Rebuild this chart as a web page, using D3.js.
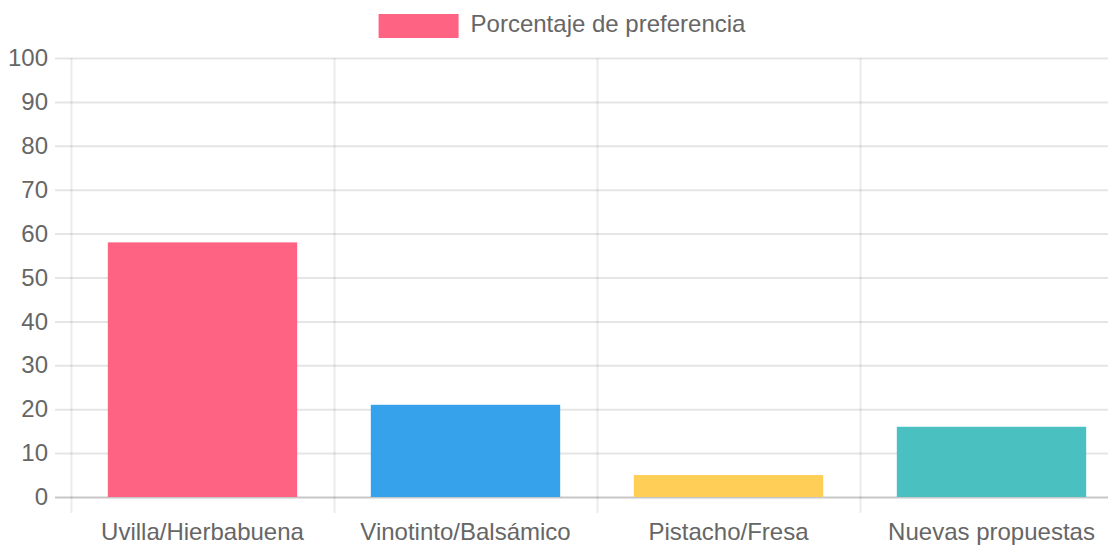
<!DOCTYPE html>
<html>
<head>
<meta charset="utf-8">
<script src="https://cdn.jsdelivr.net/npm/d3@7"></script>
<style>
  html, body { margin: 0; padding: 0; background: #fff; overflow: hidden; }
  text { font-family: "Liberation Sans", Arial, Helvetica, sans-serif; fill: #666; }
</style>
</head>
<body>
<div id="chart"></div>
<script>
// data
const categories = ["Uvilla/Hierbabuena", "Vinotinto/Balsámico", "Pistacho/Fresa", "Nuevas propuestas"];
const values = [58, 21, 5, 16];
const colors = ["#FF6384", "#36A2EB", "#FFCE56", "#4BC0C0"];
const yTicks = [0, 10, 20, 30, 40, 50, 60, 70, 80, 90, 100];
const seriesName = "Porcentaje de preferencia";

const width = 1108;
const height = 545;
const canvas_width = 1124; // original canvas is a bit wider than the shot
const font_size = 24;
const plot_left = 71;
const plot_top = 58;
const plot_bottom = 497;
const tick_len = 16;
const grid_color = "rgba(0,0,0,0.1)";

let svg = d3.select("#chart").append("svg")
	.attr("width", width)
	.attr("height", height);

let x = d3.scaleBand()
	.domain(categories)
	.range([plot_left, plot_left + 4 * 263])
	.paddingInner(0)
	.paddingOuter(0);

let y = d3.scaleLinear()
	.domain([0, 100])
	.range([plot_bottom, plot_top]);

//------------------------------------------------
// y axis + horizontal grid
let yAxis = d3.axisLeft(y)
	.tickValues(yTicks)
	.tickSize(-(canvas_width - plot_left + tick_len))
	.tickPadding(7);

let yg = svg.append("g")
	.attr("transform", "translate(" + (plot_left - tick_len) + ",0)")
	.call(yAxis);
yg.select(".domain").remove();
yg.selectAll("line")
	.attr("stroke", function(d) { return d === 0 ? "rgba(0,0,0,0.22)" : grid_color; })
	.attr("stroke-width", 2);
yg.selectAll("text")
	.style("font-size", font_size + "px")
	.attr("fill", "#666");

//------------------------------------------------
// vertical grid (category boundaries)
let bounds = categories.map(function(c) { return x(c); }).concat([x.range()[1]]);
svg.append("g").selectAll("line")
	.data(bounds)
	.enter().append("line")
	.attr("x1", function(d) { return d + 0.5; })
	.attr("x2", function(d) { return d + 0.5; })
	.attr("y1", plot_top)
	.attr("y2", plot_bottom + tick_len)
	.attr("stroke", "rgba(0,0,0,0.08)")
	.attr("stroke-width", 2);

// x labels
let xAxis = d3.axisBottom(x).tickSize(0).tickPadding(10);
let xg = svg.append("g")
	.attr("transform", "translate(0," + (plot_bottom + tick_len) + ")")
	.call(xAxis);
xg.select(".domain").remove();
xg.selectAll("text")
	.style("font-size", font_size + "px")
	.attr("fill", "#666");

//------------------------------------------------
// bars
let bw = x.bandwidth() * 0.72;
svg.append("g").selectAll("rect")
	.data(values)
	.enter().append("rect")
	.attr("x", function(d, i) { return x(categories[i]) + (x.bandwidth() - bw) / 2; })
	.attr("y", function(d) { return y(d); })
	.attr("width", bw)
	.attr("height", function(d) { return y(0) - y(d); })
	.attr("fill", function(d, i) { return colors[i]; });

//------------------------------------------------
// legend (centered on the original canvas)
let legend = svg.append("g");
let box_w = 80, box_h = 24, gap = 12;
let ltext = legend.append("text")
	.attr("y", 24)
	.attr("dy", "0.35em")
	.style("font-size", font_size + "px")
	.text(seriesName);
let tw = ltext.node().getComputedTextLength();
let lx = canvas_width / 2 - (box_w + gap + tw) / 2;
legend.insert("rect", "text")
	.attr("x", lx)
	.attr("y", 14)
	.attr("width", box_w)
	.attr("height", box_h)
	.attr("fill", colors[0]);
ltext.attr("x", lx + box_w + gap);
</script>
</body>
</html>
